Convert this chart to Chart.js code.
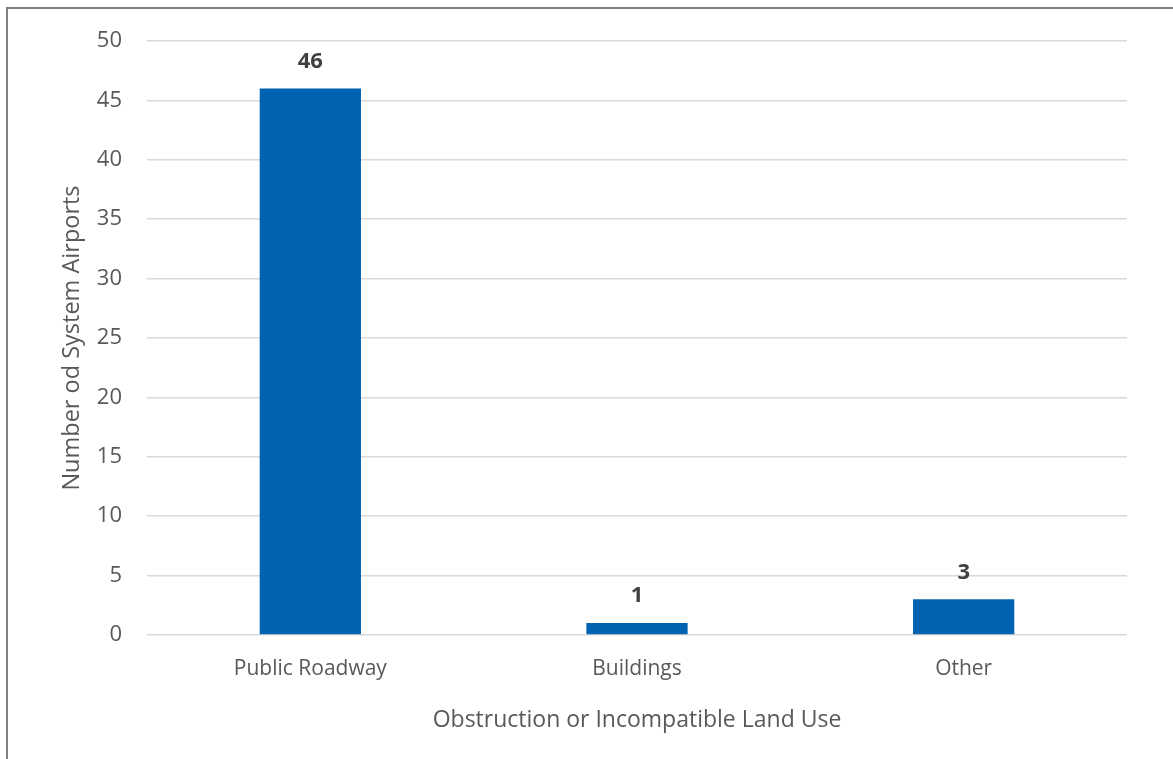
<!DOCTYPE html>
<html>
<head>
<meta charset="utf-8">
<script src="https://cdn.jsdelivr.net/npm/chart.js@4/dist/chart.umd.min.js"></script>
<style>
  html, body { margin: 0; padding: 0; background: #fff; overflow: hidden; }
  #wrap { position: absolute; left: 0; top: 0; width: 1173px; height: 759px; }
  #frame { position: absolute; left: 6px; top: 7px; width: 1200px; height: 800px;
           border-left: 2px solid #808080; border-top: 2px solid #808080; }
  canvas { position: absolute; left: 0; top: 0; }
</style>
</head>
<body>
<div id="wrap">
  <div id="frame"></div>
  <canvas id="c" width="1173" height="759"></canvas>
</div>
<script>
const categories = ["Public Roadway", "Buildings", "Other"];
const values = [46, 1, 3];
const yTitle = "Number od System Airports";
const xTitle = "Obstruction or Incompatible Land Use";

const FONT = "'Open Sans', 'DejaVu Sans', sans-serif";

const valueLabels = {
  id: 'valueLabels',
  afterDatasetsDraw(chart) {
    const ctx = chart.ctx;
    const meta = chart.getDatasetMeta(0);
    ctx.save();
    ctx.font = "bold 22px " + FONT;
    ctx.fillStyle = "#404040";
    ctx.textAlign = "center";
    ctx.textBaseline = "middle";
    meta.data.forEach((bar, i) => {
      ctx.fillText(String(values[i]), bar.x, bar.y - 27);
    });
    ctx.restore();
  }
};

new Chart(document.getElementById('c'), {
  type: 'bar',
  data: {
    labels: categories,
    datasets: [{
      data: values,
      backgroundColor: '#0063B1',
      borderWidth: 0,
      categoryPercentage: 1,
      barPercentage: 0.31
    }]
  },
  options: {
    responsive: false,
    animation: false,
    devicePixelRatio: 1,
    layout: { padding: { left: 0, right: 46, top: 41, bottom: 0 } },
    plugins: { legend: { display: false }, tooltip: { enabled: false } },
    scales: {
      x: {
        grid: { display: false, drawTicks: false },
        border: { display: false },
        ticks: { color: '#595959', font: { family: FONT, size: 21 }, padding: 21 },
        title: { display: true, text: xTitle, color: '#595959',
                 font: { family: FONT, size: 23 }, padding: { top: 0, bottom: 25 } },
        afterFit(s) { s.height = 124; }
      },
      y: {
        min: 0, max: 50,
        ticks: { stepSize: 5, color: '#595959', font: { family: FONT, size: 22 }, padding: 25 },
        grid: { color: '#d9d9d9', lineWidth: 1.5, drawTicks: false },
        border: { display: false },
        title: { display: true, text: yTitle, color: '#595959',
                 font: { family: FONT, size: 23.5 }, padding: { top: 58, bottom: 0 } },
        afterFit(s) { s.width = 147; }
      }
    }
  },
  plugins: [valueLabels]
});
</script>
</body>
</html>
